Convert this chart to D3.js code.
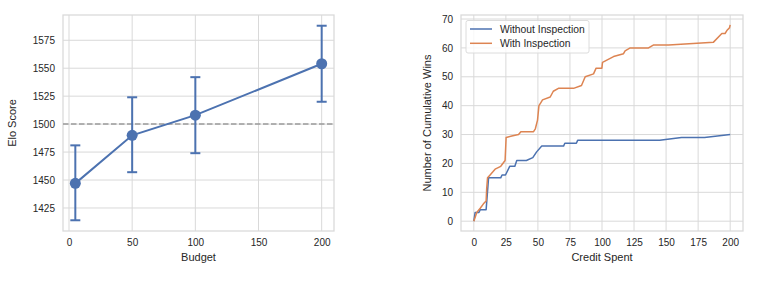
<!DOCTYPE html>
<html>
<head>
<meta charset="utf-8">
<script src="https://cdn.jsdelivr.net/npm/d3@7"></script>
<style>
  body { margin: 0; background: #fff; }
  text { font-family: "Liberation Sans", Arial, sans-serif; fill: #262626; }
</style>
</head>
<body>
<svg id="chart" width="761" height="282"></svg>
<script>
// left panel: elo score vs budget
var budgets = [5, 50, 100, 200];
var eloMean = [1447, 1490, 1508, 1554];
var eloLow  = [1414, 1457, 1474, 1520];
var eloHigh = [1481, 1524, 1542, 1588];
var eloXTicks = [0, 50, 100, 150, 200];
var eloYTicks = [1425, 1450, 1475, 1500, 1525, 1550, 1575];
var baseline = 1500;

// right panel: cumulative wins vs credit spent
var withoutX = [0, 1, 4, 5, 9.6, 11, 11.5, 21, 22, 24.7, 28, 32, 33.5, 41, 46, 49, 53, 70, 71, 80, 81, 145, 162, 180, 200];
var withoutY = [0, 3, 3, 4, 4, 12, 15, 15, 16, 16, 19, 19, 21, 21, 22, 24, 26, 26, 27, 27, 28, 28, 29, 29, 30];
var withX = [0, 2.3, 5, 7.5, 9.6, 10, 10.7, 12.7, 14.7, 16.6, 21, 24.4, 25.2, 29.6, 34.9, 36.7, 46.6, 48, 49.7, 50.8, 52.2, 53.6, 59.6, 62, 66, 77.8, 84, 86.9, 93.4, 95.4, 99.9, 100.4, 109, 116.8, 118, 122, 136.3, 140, 152, 187, 193.5, 196, 197.4, 199.5, 200];
var withY = [0, 3, 4.5, 6, 7, 11, 15, 16, 17, 18, 19, 21, 29, 29.5, 30, 31, 31, 32, 35, 40, 41, 42, 43, 45, 46, 46, 47, 50, 51, 53, 53, 55, 57, 58, 59, 60, 60, 61, 61, 62, 65, 65, 66, 67, 68];
var winsXTicks = [0, 25, 50, 75, 100, 125, 150, 175, 200];
var winsYTicks = [0, 10, 20, 30, 40, 50, 60, 70];
var seriesNames = ["Without Inspection", "With Inspection"];

var blue = "#4c72b0", orange = "#dd8452", gridColor = "#d9d9d9";
var svg = d3.select("#chart");

function frame(g, x, y, xt, yt) {
  var w = x.range()[1], h = y.range()[0];
  g.selectAll(".gx").data(xt).enter().append("line")
    .attr("x1", d => x(d)).attr("x2", d => x(d)).attr("y1", 0).attr("y2", h)
    .attr("stroke", gridColor).attr("stroke-width", 1);
  g.selectAll(".gy").data(yt).enter().append("line")
    .attr("y1", d => y(d)).attr("y2", d => y(d)).attr("x1", 0).attr("x2", w)
    .attr("stroke", gridColor).attr("stroke-width", 1);
  g.append("rect").attr("width", w).attr("height", h)
    .attr("fill", "none").attr("stroke", gridColor).attr("stroke-width", 1.25);
  var xa = g.append("g").attr("transform", "translate(0," + h + ")")
    .call(d3.axisBottom(x).tickValues(xt).tickFormat(d3.format("d")).tickSize(0).tickPadding(8));
  var ya = g.append("g").call(d3.axisLeft(y).tickValues(yt).tickFormat(d3.format("d")).tickSize(0).tickPadding(8));
  [xa, ya].forEach(function(a) {
    a.select(".domain").remove();
    a.selectAll("text").attr("font-size", 10).attr("fill", "#262626")
      .attr("font-family", "Liberation Sans, Arial, sans-serif");
  });
}

/* left chart */
var g1 = svg.append("g").attr("transform", "translate(63,15)");
var x1 = d3.scaleLinear().domain([-4.75, 209.75]).range([0, 271]);
var y1 = d3.scaleLinear().domain([1404.4, 1597.6]).range([216, 0]);
frame(g1, x1, y1, eloXTicks, eloYTicks);

g1.append("line").attr("x1", 0).attr("x2", 271)
  .attr("y1", y1(baseline)).attr("y2", y1(baseline))
  .attr("stroke", "#9a9a9a").attr("stroke-width", 1.5).attr("stroke-dasharray", "5.5,2.5");

var elo = budgets.map((b, i) => ({ b: b, m: eloMean[i], lo: eloLow[i], hi: eloHigh[i] }));
var eb = g1.selectAll(".eb").data(elo).enter().append("g").attr("stroke", blue).attr("stroke-width", 2);
eb.append("line").attr("x1", d => x1(d.b)).attr("x2", d => x1(d.b)).attr("y1", d => y1(d.lo)).attr("y2", d => y1(d.hi));
eb.append("line").attr("x1", d => x1(d.b) - 5).attr("x2", d => x1(d.b) + 5).attr("y1", d => y1(d.lo)).attr("y2", d => y1(d.lo));
eb.append("line").attr("x1", d => x1(d.b) - 5).attr("x2", d => x1(d.b) + 5).attr("y1", d => y1(d.hi)).attr("y2", d => y1(d.hi));

g1.append("path").datum(elo)
  .attr("d", d3.line().x(d => x1(d.b)).y(d => y1(d.m)))
  .attr("fill", "none").attr("stroke", blue).attr("stroke-width", 2);
g1.selectAll(".pt").data(elo).enter().append("circle")
  .attr("cx", d => x1(d.b)).attr("cy", d => y1(d.m)).attr("r", 5.5).attr("fill", blue);

g1.append("text").attr("x", 135.5).attr("y", 246).attr("text-anchor", "middle").attr("font-size", 11).text("Budget");
g1.append("text").attr("transform", "translate(-47,108) rotate(-90)").attr("text-anchor", "middle").attr("font-size", 11).text("Elo Score");

/* right chart */
var g2 = svg.append("g").attr("transform", "translate(461,15)");
var x2 = d3.scaleLinear().domain([-10, 210]).range([0, 282]);
var y2 = d3.scaleLinear().domain([-3.4, 71.4]).range([216, 0]);
frame(g2, x2, y2, winsXTicks, winsYTicks);

var series = [
  { name: seriesNames[0], color: blue, pts: withoutX.map((v, i) => [v, withoutY[i]]) },
  { name: seriesNames[1], color: orange, pts: withX.map((v, i) => [v, withY[i]]) }
];
var ln = d3.line().x(d => x2(d[0])).y(d => y2(d[1]));
g2.selectAll(".series").data(series).enter().append("path")
  .attr("d", d => ln(d.pts)).attr("fill", "none")
  .attr("stroke", d => d.color).attr("stroke-width", 1.5).attr("stroke-linejoin", "round");

var lg = g2.append("g").attr("transform", "translate(5,5.5)");
lg.append("rect").attr("width", 123).attr("height", 32.5).attr("rx", 2)
  .attr("fill", "#fff").attr("fill-opacity", 0.8).attr("stroke", "#dcdcdc").attr("stroke-width", 1);
var li = lg.selectAll(".li").data(series).enter().append("g")
  .attr("transform", (d, i) => "translate(0," + (8.5 + i * 14.3) + ")");
li.append("line").attr("x1", 4).attr("x2", 26).attr("stroke", d => d.color).attr("stroke-width", 1.5);
li.append("text").attr("x", 34).attr("dy", "0.35em").attr("font-size", 10.3).text(d => d.name);

g2.append("text").attr("x", 141).attr("y", 246).attr("text-anchor", "middle").attr("font-size", 11).text("Credit Spent");
g2.append("text").attr("transform", "translate(-30,108) rotate(-90)").attr("text-anchor", "middle").attr("font-size", 11).text("Number of Cumulative Wins");
</script>
</body>
</html>
